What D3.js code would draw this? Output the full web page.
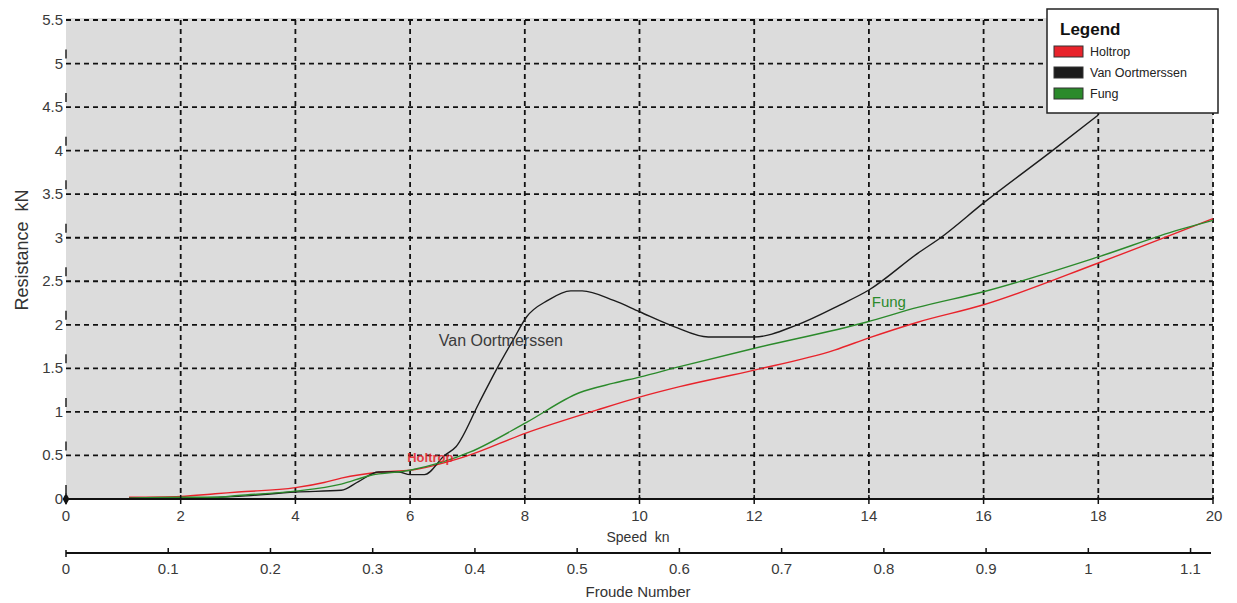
<!DOCTYPE html>
<html>
<head>
<meta charset="utf-8">
<script src="https://cdn.jsdelivr.net/npm/d3@7/dist/d3.min.js"></script>
<style>
  body { margin: 0; background: #fff; }
  svg { display: block; font-family: Arial, "Liberation Sans", sans-serif; }
  .tick-label { fill: #3a3a3a; font-size: 15px; }
</style>
</head>
<body>
<div id="chart"></div>
<script>
// speed ticks (kn), resistance ticks (kN), froude ticks
const speedTicks = [0, 2, 4, 6, 8, 10, 12, 14, 16, 18, 20];
const resTicks = [0, 0.5, 1, 1.5, 2, 2.5, 3, 3.5, 4, 4.5, 5, 5.5];
const froudeTicks = [0, 0.1, 0.2, 0.3, 0.4, 0.5, 0.6, 0.7, 0.8, 0.9, 1, 1.1];

// Holtrop
const holtropSpeed = [1.1, 2, 2.6, 3, 4, 4.5, 4.8, 5.5, 6, 6.93, 8.03, 9.25, 10, 10.7, 12, 13.4, 14, 14.85, 16, 18, 20];
const holtropRes = [0.02, 0.03, 0.06, 0.08, 0.13, 0.19, 0.24, 0.31, 0.33, 0.48, 0.76, 1.02, 1.17, 1.29, 1.48, 1.71, 1.85, 2.03, 2.23, 2.71, 3.22];

// Van Oortmerssen
const vanSpeed = [1.1, 2, 3, 4, 4.8, 5.1, 5.45, 5.8, 6.0, 6.25, 6.6, 6.8, 7.2, 7.5, 7.8, 8.03, 8.4, 8.8, 9.0, 9.55, 10, 10.6, 11.2, 12, 12.75, 13.5, 14, 14.85, 15.25, 16, 17.2, 18];
const vanRes = [0.01, 0.01, 0.03, 0.08, 0.1, 0.2, 0.31, 0.31, 0.28, 0.28, 0.5, 0.6, 1.1, 1.48, 1.83, 2.09, 2.28, 2.39, 2.39, 2.28, 2.15, 1.98, 1.86, 1.86, 2.0, 2.23, 2.4, 2.82, 3.0, 3.4, 4.0, 4.41];

// Fung
const fungSpeed = [1.1, 2, 2.6, 3, 4, 4.8, 5.3, 6, 7.05, 8.03, 8.95, 9.55, 10, 10.7, 12, 13.95, 14.85, 16, 18, 19.4, 20];
const fungRes = [0.01, 0.02, 0.02, 0.04, 0.09, 0.17, 0.27, 0.33, 0.54, 0.88, 1.22, 1.33, 1.4, 1.52, 1.73, 2.03, 2.2, 2.38, 2.78, 3.09, 3.2];

const seriesNames = ["Holtrop", "Van Oortmerssen", "Fung"];
const seriesColors = ["#e8232b", "#1c1c1c", "#2b8a2b"];

const width = 1237, height = 603;
const svg = d3.select("#chart").append("svg")
    .attr("width", width)
    .attr("height", height);

// scales
const x = d3.scaleLinear().domain([0, 20]).range([66, 1213]);
const y = d3.scaleLinear().domain([0, 5.5]).range([499, 20]);
const xf = d3.scaleLinear().domain([0, 1.12]).range([66, 1211]);

// plot background
svg.append("rect")
    .attr("x", x(0))
    .attr("y", y(5.5) - 2)
    .attr("width", x(20) - x(0))
    .attr("height", y(0) - y(5.5) + 2)
    .attr("fill", "#dcdcdc");

// grid
const grid = svg.append("g")
    .attr("stroke", "#111")
    .attr("stroke-width", 1.8)
    .attr("stroke-dasharray", "5,4");

grid.selectAll(".hgrid")
    .data(resTicks.filter(d => d > 0))
    .join("line")
    .attr("x1", x(0)).attr("x2", x(20))
    .attr("y1", d => y(d)).attr("y2", d => y(d));

grid.selectAll(".vgrid")
    .data(speedTicks.filter(d => d > 0))
    .join("line")
    .attr("x1", d => x(d)).attr("x2", d => x(d))
    .attr("y1", y(5.5)).attr("y2", y(0));

// small marks on the left edge
svg.append("g").selectAll("line")
    .data(resTicks.filter(d => d < 5.5))
    .join("line")
    .attr("x1", x(0)).attr("x2", x(0))
    .attr("y1", d => y(d) - 14).attr("y2", d => y(d) - 5)
    .attr("stroke", "#222")
    .attr("stroke-width", 1.5);

// y tick labels
svg.append("g").selectAll("text")
    .data(resTicks)
    .join("text")
    .attr("class", "tick-label")
    .attr("x", x(0) - 3)
    .attr("y", d => y(d) + 5)
    .attr("text-anchor", "end")
    .text(d => d);

// lines
const line = d3.line()
    .x(d => x(d[0]))
    .y(d => y(d[1]))
    .curve(d3.curveMonotoneX);

const seriesData = [
    d3.zip(holtropSpeed, holtropRes),
    d3.zip(vanSpeed, vanRes),
    d3.zip(fungSpeed, fungRes)
];

svg.append("g").selectAll("path")
    .data(seriesData)
    .join("path")
    .attr("d", line)
    .attr("fill", "none")
    .attr("stroke", (d, i) => seriesColors[i])
    .attr("stroke-width", 1.4);

// curve labels
svg.append("text")
    .attr("x", x(6.5)).attr("y", y(1.76))
    .attr("font-size", 16)
    .attr("fill", "#3a3a3a")
    .text("Van Oortmerssen");
svg.append("text")
    .attr("x", x(5.95)).attr("y", y(0.42))
    .attr("font-size", 13)
    .attr("font-weight", "bold")
    .attr("fill", "#e8232b")
    .attr("opacity", 0.85)
    .text("Holtrop");
svg.append("text")
    .attr("x", x(14.05)).attr("y", y(2.2))
    .attr("font-size", 15)
    .attr("fill", "#2b8a2b")
    .text("Fung");

// speed axis
const speedAxis = svg.append("g");
speedAxis.append("line")
    .attr("x1", x(0)).attr("x2", x(20))
    .attr("y1", y(0)).attr("y2", y(0))
    .attr("stroke", "#111").attr("stroke-width", 2);
speedAxis.selectAll(".t")
    .data(speedTicks)
    .join("line")
    .attr("x1", d => x(d)).attr("x2", d => x(d))
    .attr("y1", y(0) - 4).attr("y2", y(0) + 5)
    .attr("stroke", "#111").attr("stroke-width", 1.5);
speedAxis.selectAll("text")
    .data(speedTicks)
    .join("text")
    .attr("class", "tick-label")
    .attr("x", d => x(d) + (d === 20 ? 1 : 0))
    .attr("y", y(0) + 22)
    .attr("text-anchor", "middle")
    .text(d => d);
speedAxis.append("path")
    .attr("d", d3.symbol(d3.symbolDiamond, 40)())
    .attr("transform", "translate(" + x(0) + "," + y(0) + ")")
    .attr("fill", "#111");

svg.append("text")
    .attr("x", 638).attr("y", 542)
    .attr("text-anchor", "middle")
    .attr("font-size", 14)
    .attr("fill", "#333")
    .attr("xml:space", "preserve")
    .text("Speed  kn");

// froude axis
const fy = 553;
const froudeAxis = svg.append("g");
froudeAxis.append("line")
    .attr("x1", xf(0)).attr("x2", xf(1.12))
    .attr("y1", fy).attr("y2", fy)
    .attr("stroke", "#111").attr("stroke-width", 2);
froudeAxis.selectAll(".t")
    .data(froudeTicks)
    .join("line")
    .attr("x1", d => xf(d)).attr("x2", d => xf(d))
    .attr("y1", d => d === 0 ? fy - 3 : fy - 5).attr("y2", d => d === 0 ? fy + 4 : fy)
    .attr("stroke", "#111").attr("stroke-width", 1.5);
froudeAxis.selectAll("text")
    .data(froudeTicks)
    .join("text")
    .attr("class", "tick-label")
    .attr("x", d => xf(d))
    .attr("y", fy + 21)
    .attr("text-anchor", "middle")
    .text(d => d);

svg.append("text")
    .attr("x", 638).attr("y", 597)
    .attr("text-anchor", "middle")
    .attr("font-size", 15)
    .attr("fill", "#333")
    .text("Froude Number");

// y axis title
svg.append("text")
    .attr("transform", "translate(28,250) rotate(-90)")
    .attr("text-anchor", "middle")
    .attr("font-size", 18)
    .attr("fill", "#333")
    .attr("xml:space", "preserve")
    .text("Resistance  kN");

// legend
const legend = svg.append("g").attr("transform", "translate(1047,9)");
legend.append("rect")
    .attr("width", 171).attr("height", 104)
    .attr("fill", "#fff")
    .attr("stroke", "#222").attr("stroke-width", 1.5);
legend.append("text")
    .attr("x", 13).attr("y", 26)
    .attr("font-size", 17)
    .attr("font-weight", "bold")
    .attr("fill", "#111")
    .text("Legend");
const items = legend.selectAll(".item")
    .data(seriesNames)
    .join("g")
    .attr("transform", (d, i) => "translate(7," + (37 + i * 21) + ")");
items.append("rect")
    .attr("width", 29).attr("height", 11)
    .attr("fill", (d, i) => seriesColors[i])
    .attr("stroke", "#333").attr("stroke-width", 1);
items.append("text")
    .attr("x", 36).attr("y", 10)
    .attr("font-size", 12.5)
    .attr("fill", "#222")
    .text(d => d);
</script>
</body>
</html>
